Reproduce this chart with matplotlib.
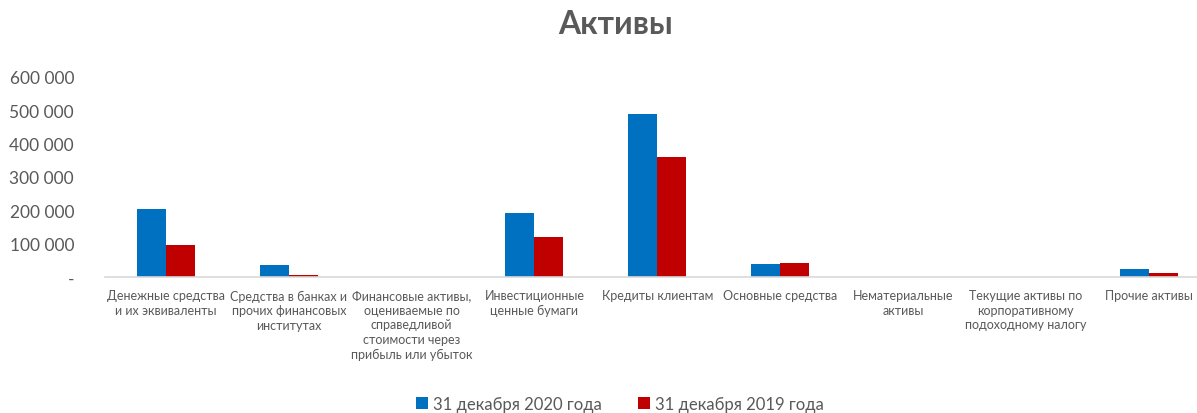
import numpy as np
import matplotlib.pyplot as plt
from matplotlib.ticker import FuncFormatter

plt.rcParams['font.family'] = ['Lato', 'DejaVu Sans']

categories = [
    "Денежные средства\nи их эквиваленты",
    "Средства в банках и\nпрочих финансовых\nинститутах",
    "Финансовые активы,\nоцениваемые по\nсправедливой\nстоимости через\nприбыль или убыток",
    "Инвестиционные\nценные бумаги",
    "Кредиты клиентам",
    "Основные средства",
    "Нематериальные\nактивы",
    "Текущие активы по\nкорпоративному\nподоходному налогу",
    "Прочие активы",
]
values_2020 = [204000, 35000, 0, 192000, 489000, 39000, 0, 0, 25000]
values_2019 = [96000, 6000, 0, 120000, 359000, 42000, 0, 0, 11000]
label_2020 = "31 декабря 2020 года"
label_2019 = "31 декабря 2019 года"

blue = "#0070C0"
red = "#C00000"
grey = "#595959"

fig = plt.figure(figsize=(11.97, 4.14), dpi=100)
ax = fig.add_axes([104.6 / 1197, (414 - 278) / 414, (1210 - 104.6) / 1197, 200 / 414])

x = np.arange(len(categories))
w = 0.236
ax.bar(x - w / 2, values_2020, w, color=blue, label=label_2020)
ax.bar(x + w / 2, values_2019, w, color=red, label=label_2019)

ax.set_xlim(-0.5, len(categories) - 0.5)
ax.set_ylim(0, 600000)
ax.set_yticks(range(0, 600001, 100000))
ax.yaxis.set_major_formatter(FuncFormatter(
    lambda v, p: "-" if v == 0 else f"{int(v):,}".replace(",", " ")))
# pad is in points: about 31 px between labels and axis
ax.tick_params(axis='y', length=0, pad=22, labelsize=12.5, labelcolor=grey)
ax.set_xticks(x)
ax.set_xticklabels(categories, fontsize=9, color=grey, linespacing=1.25)
ax.tick_params(axis='x', length=0, pad=9)

for s in ['top', 'right', 'left']:
    ax.spines[s].set_visible(False)
ax.spines['bottom'].set_color("#d9d9d9")
ax.spines['bottom'].set_linewidth(1.2)

fig.text(616 / 1197, 1 - 24 / 414, "Активы", ha='center', va='center',
         fontsize=23, fontweight='bold', color=grey)

fig.legend(loc='center', bbox_to_anchor=(620 / 1197, 1 - 405 / 414), ncol=2,
           frameon=False, fontsize=12, handlelength=0.7, handleheight=0.7,
           handletextpad=0.3, columnspacing=2.2, labelcolor=grey)

fig.savefig("out.png", dpi=100)
